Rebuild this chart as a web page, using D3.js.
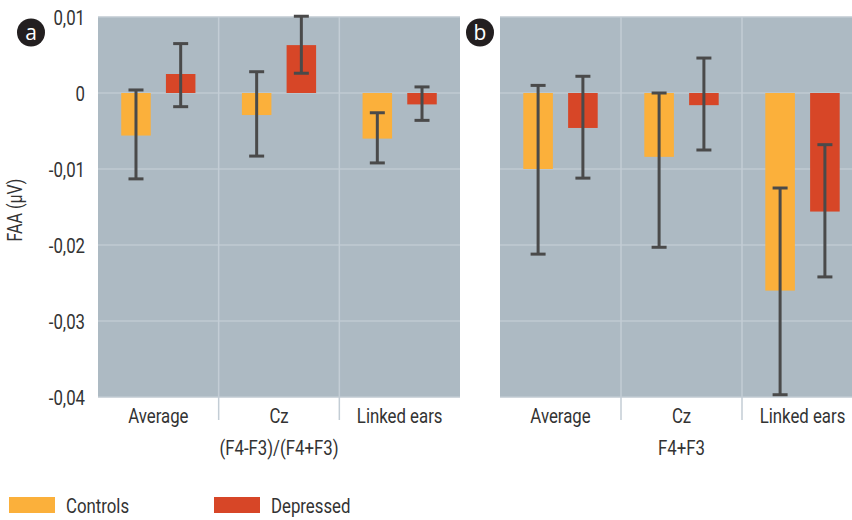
<!DOCTYPE html>
<html>
<head>
<meta charset="utf-8">
<script src="https://cdn.jsdelivr.net/npm/d3@7"></script>
<style>
  html, body { margin: 0; padding: 0; background: #fff; }
  svg text { font-family: "Roboto", sans-serif; fill: #333; }
</style>
</head>
<body>
<div id="chart"></div>
<script>
// categorías y series (FAA en µV)
const categories = ['Average', 'Cz', 'Linked ears'];
const groups = ['Controls', 'Depressed'];
const yTicks = [0.01, 0, -0.01, -0.02, -0.03, -0.04];

// panel a: (F4-F3)/(F4+F3)
const aControls = [-0.0056, -0.0029, -0.0060];
const aControlsLo = [-0.0113, -0.0083, -0.0092];
const aControlsHi = [0.0004, 0.0028, -0.0026];
const aDepressed = [0.0025, 0.0063, -0.0015];
const aDepressedLo = [-0.0018, 0.0026, -0.0036];
const aDepressedHi = [0.0065, 0.0101, 0.0008];

// panel b: F4+F3
const bControls = [-0.0100, -0.0084, -0.0260];
const bControlsLo = [-0.0212, -0.0203, -0.0397];
const bControlsHi = [0.0010, 0.0000, -0.0125];
const bDepressed = [-0.0046, -0.0016, -0.0156];
const bDepressedLo = [-0.0112, -0.0075, -0.0242];
const bDepressedHi = [0.0022, 0.0046, -0.0068];

const colors = { Controls: '#fbb03b', Depressed: '#d74627' };
const W = 852, H = 520;
const plotTop = 17, plotBottom = 397;
const narrow = 'scale(0.8,1)'; // imita la tipografía condensada del original

const svg = d3.select('#chart').append('svg')
  .attr('width', W).attr('height', H);

const y = d3.scaleLinear().domain([-0.04, 0.01]).range([plotBottom, plotTop]);
const fmt = d => d === 0 ? '0' : d3.format('.2f')(d).replace('.', ',').replace('−', '-');

function rows(ctrl, ctrlLo, ctrlHi, dep, depLo, depHi) {
  const out = [];
  categories.forEach((c, i) => {
    out.push({ cat: c, grp: 'Controls', v: ctrl[i], lo: ctrlLo[i], hi: ctrlHi[i] });
    out.push({ cat: c, grp: 'Depressed', v: dep[i], lo: depLo[i], hi: depHi[i] });
  });
  return out;
}

function panel(x0, x1, clipW, letter, letterPos, subtitle, data) {
  const x = d3.scaleBand().domain(categories).range([x0, x1]);
  const xs = d3.scaleBand().domain(groups).range([0, x.bandwidth()])
    .paddingInner(0.34).paddingOuter(0.52);

  const g = svg.append('g');
  g.append('rect').attr('x', x0).attr('y', plotTop)
    .attr('width', clipW).attr('height', plotBottom - plotTop).attr('fill', '#adbac3');

  // rejilla horizontal
  g.selectAll('.hgrid').data(yTicks).enter().append('line')
    .attr('x1', x0).attr('x2', x0 + clipW)
    .attr('y1', d => y(d)).attr('y2', d => y(d))
    .attr('stroke', '#c0cad2').attr('stroke-width', 1.5);

  // separadores de categoría (bajan hasta las etiquetas)
  g.selectAll('.vgrid').data(categories.slice(1)).enter().append('line')
    .attr('x1', d => x(d)).attr('x2', d => x(d))
    .attr('y1', plotTop).attr('y2', 420)
    .attr('stroke', '#c3cdd5').attr('stroke-width', 1.5);

  g.selectAll('.bar').data(data).enter().append('rect')
    .attr('x', d => x(d.cat) + xs(d.grp))
    .attr('width', xs.bandwidth())
    .attr('y', d => y(Math.max(0, d.v)))
    .attr('height', d => Math.abs(y(d.v) - y(0)))
    .attr('fill', d => colors[d.grp]);

  const eb = g.selectAll('.err').data(data).enter().append('g')
    .attr('transform', d => `translate(${x(d.cat) + xs(d.grp) + xs.bandwidth() / 2},0)`);
  eb.append('line').attr('y1', d => y(d.hi)).attr('y2', d => y(d.lo))
    .attr('stroke', '#4a4a4a').attr('stroke-width', 3);
  eb.append('line').attr('x1', -7.5).attr('x2', 7.5)
    .attr('y1', d => y(d.hi)).attr('y2', d => y(d.hi))
    .attr('stroke', '#4a4a4a').attr('stroke-width', 3);
  eb.append('line').attr('x1', -7.5).attr('x2', 7.5)
    .attr('y1', d => y(d.lo)).attr('y2', d => y(d.lo))
    .attr('stroke', '#4a4a4a').attr('stroke-width', 3);

  const xAxis = d3.axisBottom(x).tickSize(0).tickPadding(0);
  const ax = g.append('g').attr('transform', `translate(0,${plotBottom})`).call(xAxis);
  ax.select('.domain').remove();
  ax.selectAll('text').attr('font-size', 21).attr('fill', '#333')
    .attr('y', 26).attr('dy', null).attr('transform', narrow)
    .style('font-family', '"Roboto", sans-serif');

  g.append('text')
    .attr('transform', `translate(${x('Cz') + x.bandwidth() / 2},455) ${narrow}`)
    .attr('text-anchor', 'middle').attr('font-size', 21).text(subtitle);

  g.append('circle').attr('cx', letterPos[0]).attr('cy', letterPos[1]).attr('r', 14)
    .attr('fill', '#231f20');
  g.append('text').attr('x', letterPos[0]).attr('y', letterPos[1] + 7)
    .attr('text-anchor', 'middle').attr('font-size', 21)
    .style('fill', '#fff').style('font-family', '"Open Sans", sans-serif').text(letter);
}

panel(98, 460, 362, 'a', [31, 32.5], '(F4-F3)/(F4+F3)',
  rows(aControls, aControlsLo, aControlsHi, aDepressed, aDepressedLo, aDepressedHi));
panel(500, 863, 352, 'b', [480, 32.5], 'F4+F3',
  rows(bControls, bControlsLo, bControlsHi, bDepressed, bDepressedLo, bDepressedHi));

// eje Y
const yAxis = d3.axisLeft(y).tickValues(yTicks).tickFormat(fmt).tickSize(0).tickPadding(0);
const ya = svg.append('g').attr('transform', 'translate(85,0)').call(yAxis);
ya.select('.domain').remove();
ya.selectAll('text').attr('font-size', 21).attr('fill', '#333')
  .attr('x', 0).attr('dy', '0.36em').attr('transform', narrow)
  .style('font-family', '"Roboto", sans-serif');

svg.append('text').attr('transform', `translate(22,210) rotate(-90) ${narrow}`)
  .attr('text-anchor', 'middle').attr('font-size', 20).text('FAA (\u03bcV)');

// leyenda
const legendX = [9, 214];
const lg = svg.selectAll('.leg').data(groups).enter().append('g')
  .attr('transform', (d, i) => `translate(${legendX[i]},497)`);
lg.append('rect').attr('width', 46).attr('height', 16).attr('fill', d => colors[d]);
lg.append('text').attr('transform', `translate(57,16) ${narrow}`)
  .attr('font-size', 21).text(d => d);
</script>
</body>
</html>
